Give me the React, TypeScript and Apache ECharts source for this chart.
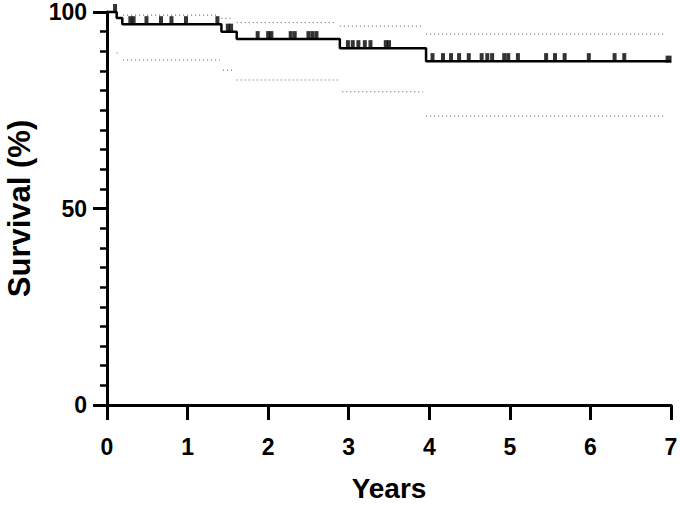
import React, { useEffect, useRef } from "react";
import * as echarts from "echarts";

// Kaplan-Meier survival estimate (time in years, survival %)
const kmTimes = [0, 0.12, 0.19, 1.42, 1.61, 2.89, 3.96, 7];
const kmSurvival = [100, 98.5, 96.9, 95.0, 93.1, 90.8, 87.5, 87.5];

// 95% confidence band (dotted horizontal pieces)
const upperTimes = [0.2, 1.42, 1.61, 2.89, 3.96, 6.95];
const upperValues = [99.2, 98.4, 97.3, 96.4, 94.4];
const lowerTimes = [0.12, 0.2, 1.44, 1.61, 2.92, 3.96, 6.95];
const lowerValues = [89.6, 87.8, 85.2, 82.7, 79.7, 73.5];

// censored observations (years)
const censorTimes = [
  0.1, 0.29, 0.33, 0.49, 0.67, 0.8, 0.98, 1.37, 1.5, 1.54, 1.87, 2.0, 2.04,
  2.28, 2.33, 2.5, 2.55, 2.6, 2.99, 3.05, 3.12, 3.2, 3.27, 3.46, 3.5, 4.04,
  4.17, 4.27, 4.37, 4.49, 4.65, 4.72, 4.78, 4.93, 4.98, 5.1, 5.45, 5.56, 5.68,
  5.98, 6.3, 6.42,
];
const lastCensor = 6.97;

const xTicks = [0, 1, 2, 3, 4, 5, 6, 7];
const yTicks = [0, 50, 100];

function survivalAt(t: number): number {
  let v = kmSurvival[0];
  for (let i = 0; i < kmTimes.length; i++) {
    if (kmTimes[i] <= t) v = kmSurvival[i];
  }
  return v;
}

function pieces(times: number[], values: number[]) {
  const out: any[] = [];
  for (let i = 0; i < values.length; i++) {
    out.push([times[i], values[i]]);
    out.push([times[i + 1] - 0.04, values[i]]);
    out.push([times[i + 1], "-"]);
  }
  return out;
}

export default function App() {
  const ref = useRef<HTMLDivElement>(null);
  useEffect(() => {
    if (!ref.current) return;
    const chart = echarts.init(ref.current, null, { renderer: "svg" });
    const font = "'Liberation Sans', Arial, sans-serif";
    const ciStyle = { color: "#555", width: 1, type: [1, 3] };
    const option = {
      animation: false,
      backgroundColor: "#ffffff",
      grid: {
        left: 107,
        right: 9,
        top: 12,
        bottom: 102,
        containLabel: false,
        outerBoundsMode: "none",
      },
      xAxis: {
        type: "value",
        min: xTicks[0],
        max: xTicks[xTicks.length - 1],
        interval: 1,
        name: "Years",
        nameLocation: "middle",
        nameGap: 69,
        nameTextStyle: { fontFamily: font, fontWeight: "bold", fontSize: 28, color: "#000" },
        axisLine: { show: true, onZero: false, lineStyle: { color: "#000", width: 3 } },
        axisTick: { show: true, inside: false, length: 15, lineStyle: { color: "#000", width: 3 } },
        axisLabel: { fontFamily: font, fontWeight: "bold", fontSize: 23, color: "#000", margin: 30 },
        splitLine: { show: false },
      },
      yAxis: {
        type: "value",
        min: yTicks[0],
        max: yTicks[yTicks.length - 1],
        interval: 50,
        name: "Survival (%)",
        nameLocation: "middle",
        nameGap: 72,
        nameRotate: 90,
        nameTextStyle: { fontFamily: font, fontWeight: "bold", fontSize: 31, color: "#000" },
        axisLine: { show: true, onZero: false, lineStyle: { color: "#000", width: 3 } },
        axisTick: { show: true, inside: false, length: 14, lineStyle: { color: "#000", width: 3 } },
        minorTick: { show: true, splitNumber: 10, length: 7, lineStyle: { color: "#000", width: 2.5 } },
        axisLabel: { fontFamily: font, fontWeight: "bold", fontSize: 23, color: "#000", margin: 20 },
        splitLine: { show: false },
        minorSplitLine: { show: false },
      },
      series: [
        {
          type: "line",
          symbol: "none",
          connectNulls: false,
          lineStyle: ciStyle,
          data: pieces(upperTimes, upperValues),
          z: 1,
        },
        {
          type: "line",
          symbol: "none",
          connectNulls: false,
          lineStyle: ciStyle,
          data: pieces(lowerTimes, lowerValues),
          z: 1,
        },
        {
          type: "line",
          step: "end",
          symbol: "none",
          clip: false,
          lineStyle: { color: "#000", width: 2.5 },
          data: kmTimes.map((t, i) => [t, kmSurvival[i]]),
          z: 3,
        },
        {
          type: "scatter",
          clip: false,
          symbol: "rect",
          symbolSize: [4, 8],
          symbolOffset: [0, -4],
          itemStyle: { color: "#000" },
          data: censorTimes.map((t) => [t, survivalAt(t)]),
          z: 4,
        },
        {
          type: "scatter",
          clip: false,
          symbol: "rect",
          symbolSize: [6, 7],
          symbolOffset: [0, -2],
          itemStyle: { color: "#000" },
          data: [[lastCensor, survivalAt(lastCensor)]],
          z: 4,
        },
      ],
    };
    chart.setOption(option as any);
    return () => chart.dispose();
  }, []);
  return (
    <div
      ref={ref}
      style={{ position: "fixed", left: 0, top: 0, width: 680, height: 507, background: "#fff" }}
    />
  );
}
